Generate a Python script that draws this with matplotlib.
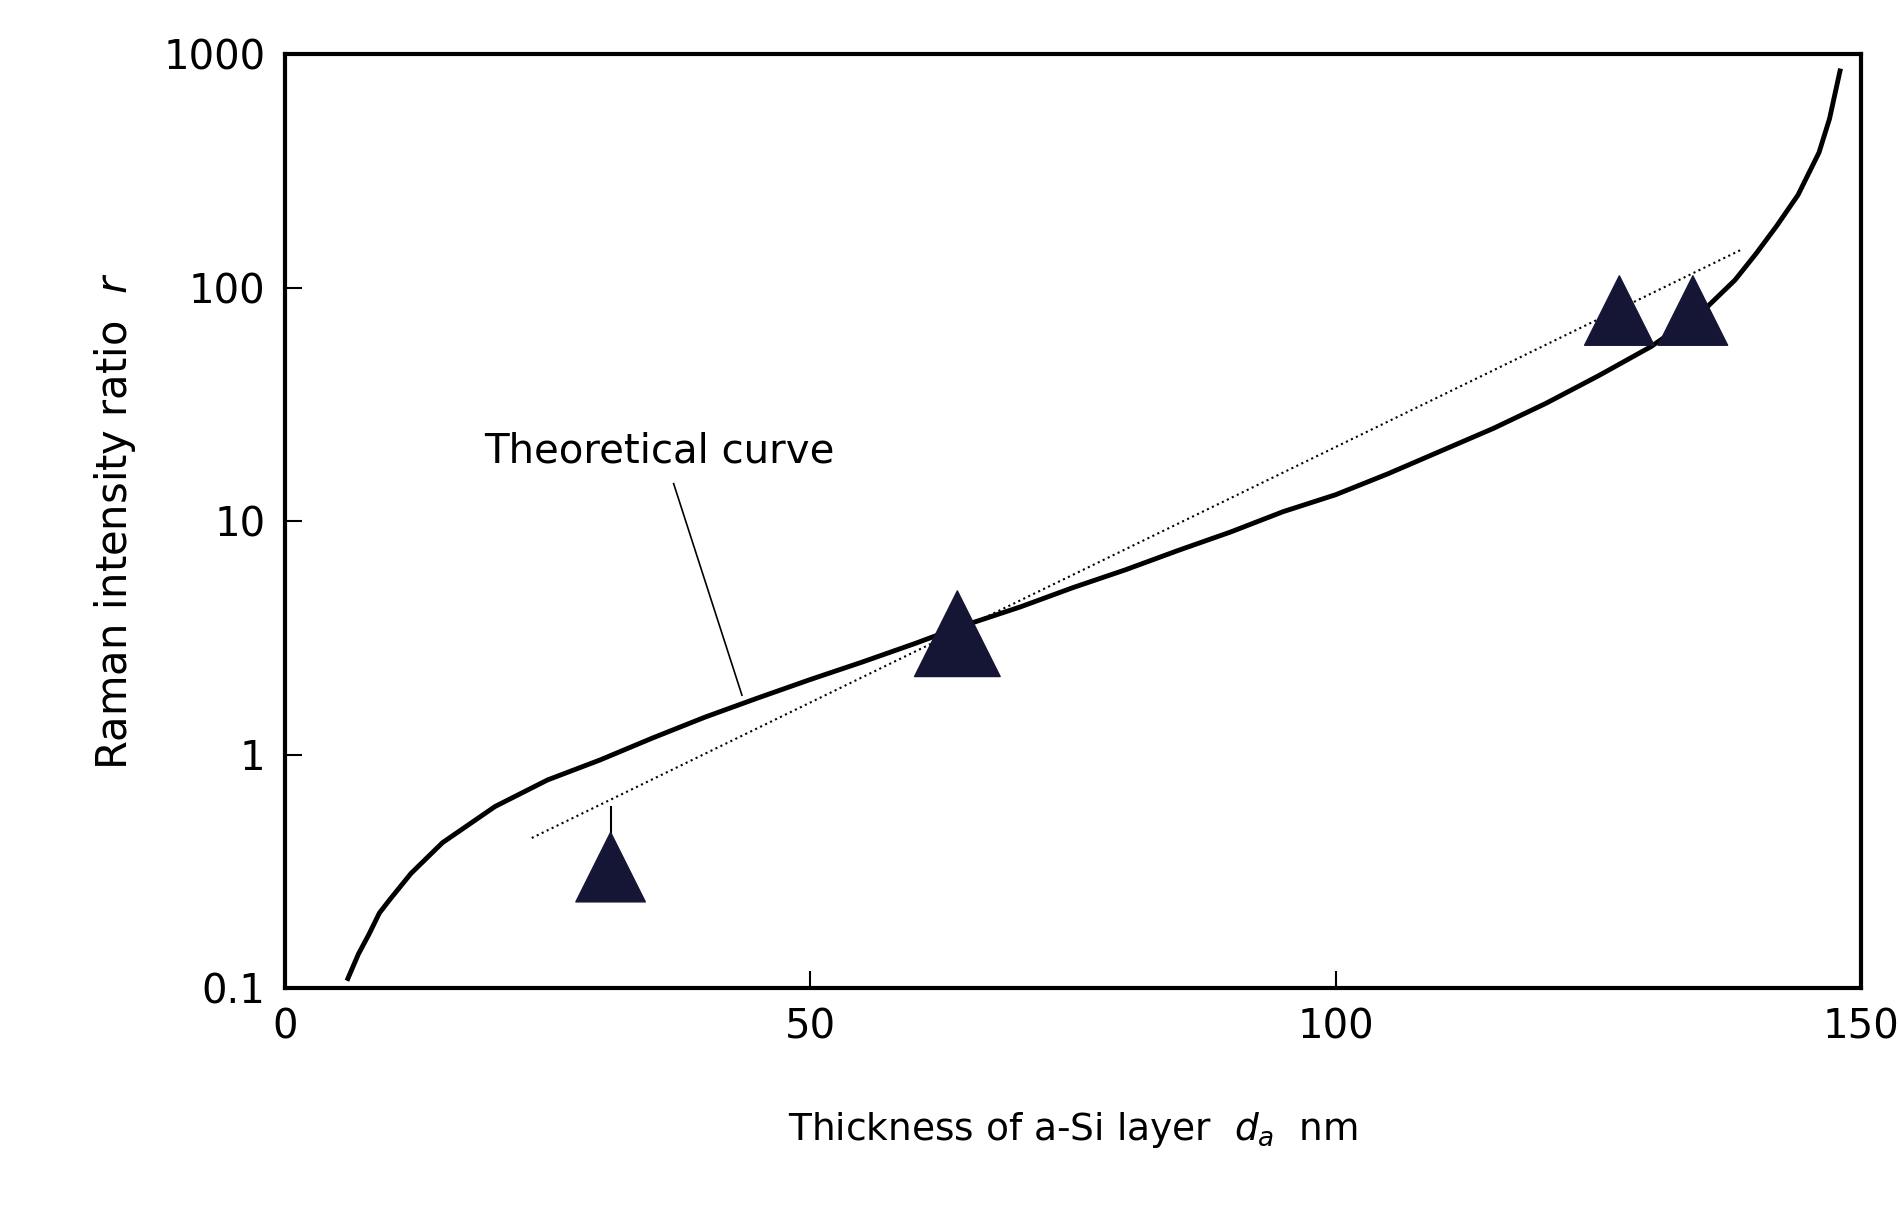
import matplotlib
matplotlib.use('Agg')
import matplotlib.pyplot as plt
import numpy as np

# theoretical curve
curve_x = [6, 7, 8, 9, 10, 12, 15, 20, 25, 30, 35, 40, 45, 50, 55, 60, 64, 70, 75, 80, 85, 90,
           95, 100, 105, 110, 115, 120, 125, 130, 135, 138, 140, 142, 144, 146, 147, 148]
curve_r = [0.11, 0.14, 0.17, 0.21, 0.24, 0.31, 0.42, 0.6, 0.78, 0.95, 1.18, 1.45, 1.75, 2.1, 2.5,
           3.0, 3.5, 4.3, 5.2, 6.2, 7.5, 9.0, 11, 13, 16, 20, 25, 32, 42, 56, 80, 108, 140, 185,
           250, 380, 530, 850]

# measured points
meas_x = [31, 64, 127, 134]
meas_r = [0.33, 3.3, 80, 80]

# dotted fit line
fit_x = [23.5, 138.5]
fit_r = [0.44, 145]

fig = plt.figure(figsize=(18.99, 12.11), dpi=100)
ax = fig.add_axes([0.15, 0.184, 0.83, 0.771])
ax.set_yscale('log')
ax.set_xlim(0, 150)
ax.set_ylim(0.1, 1000)

ax.plot(curve_x, curve_r, color='black', lw=3.5, solid_joinstyle='round')
ax.plot(fit_x, fit_r, color='black', lw=1.5, ls=':')
ax.plot([meas_x[0], meas_x[0]], [0.25, 0.6], color='black', lw=1.5)
ax.scatter(meas_x, meas_r, marker='^', s=[2500, 3800, 2500, 2500], color='#151535', zorder=3)

ax.text(19, 20, 'Theoretical curve', fontsize=29, va='center', ha='left')
ax.plot([37, 43.5], [14.5, 1.8], color='black', lw=1.2)

ax.set_xticks([0, 50, 100, 150])
ax.set_xticklabels(['0', '50', '100', '150'])
ax.set_yticks([0.1, 1, 10, 100, 1000])
ax.set_yticklabels(['0.1', '1', '10', '100', '1000'])
ax.minorticks_off()
ax.tick_params(direction='in', length=12, width=1.5, labelsize=29, pad=14)
for s in ax.spines.values():
    s.set_linewidth(3)

ax.set_ylabel('Raman intensity ratio  $r$', fontsize=30, labelpad=18)
ax.set_xlabel('Thickness of a-Si layer  $d_a$  nm', fontsize=27, labelpad=45)

fig.savefig('out.png', dpi=100)
